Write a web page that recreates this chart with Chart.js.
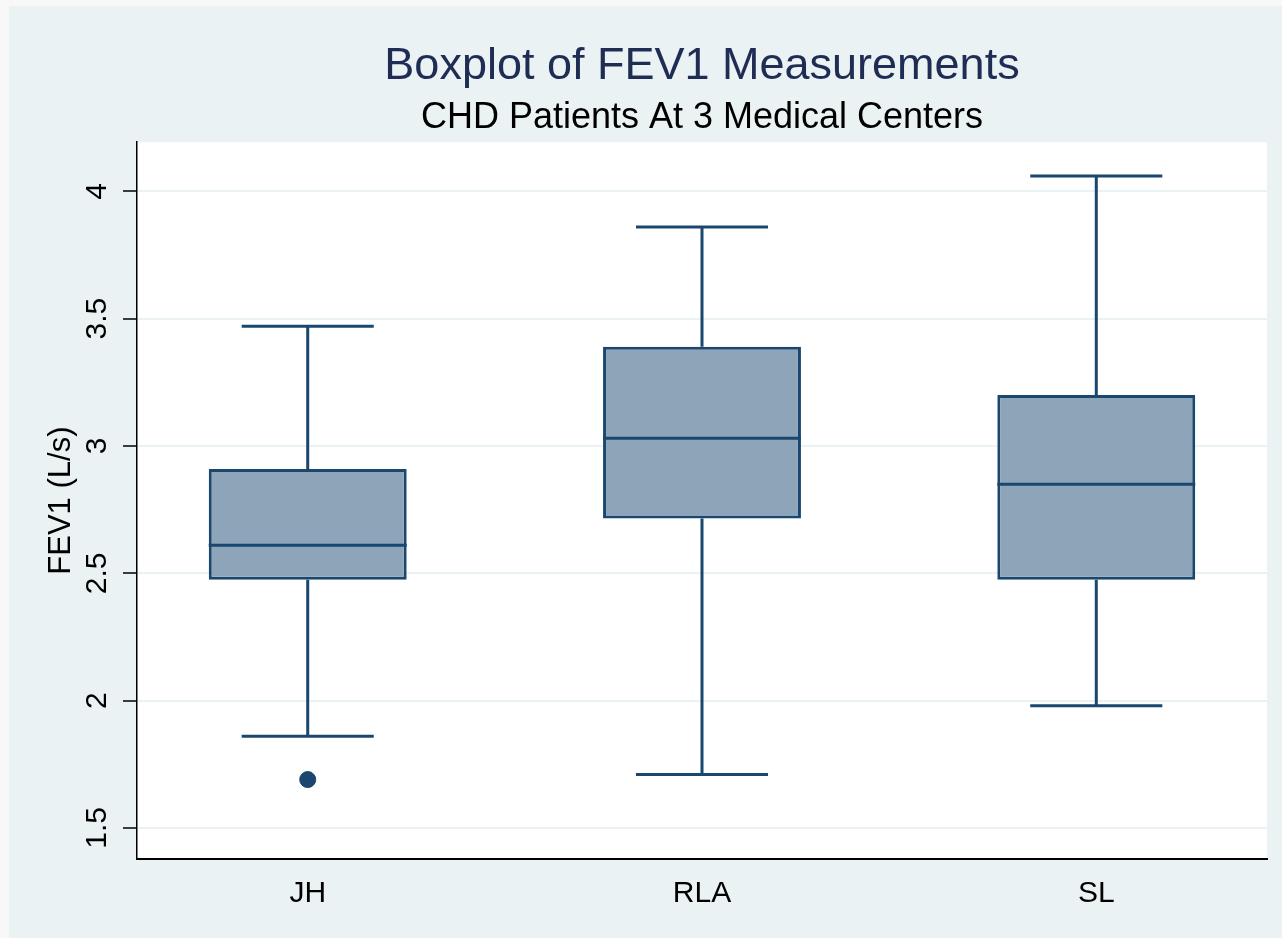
<!DOCTYPE html>
<html>
<head>
<meta charset="utf-8">
<title>Boxplot of FEV1 Measurements</title>
<script src="https://cdn.jsdelivr.net/npm/chart.js@4.4.1/dist/chart.umd.min.js"></script>
<style>
    html, body { margin: 0; padding: 0; background: #f8f8f8; }
    canvas { display: block; }
</style>
</head>
<body>
<canvas id="myChart" width="1282" height="938"></canvas>
<script>
// values
const centers = ['JH', 'RLA', 'SL']
const centerPositions = [1, 2, 3]
const lowerWhiskers = [1.86, 1.71, 1.98]
const lowerQuartiles = [2.475, 2.715, 2.475]
const medians = [2.61, 3.03, 2.85]
const upperQuartiles = [2.91, 3.39, 3.2]
const upperWhiskers = [3.47, 3.86, 4.06]
const outlierCenters = [1]
const outlierValues = [1.69]
const yTicks = [1.5, 2, 2.5, 3, 3.5, 4]

const navy = '#1a476f'
const boxFill = '#8ea4b9'
const panel = '#eaf2f3'
const capShare = 0.335

const backgroundPlugin = {
    id: 'background',
    beforeDraw: (chart) => {
        const ctx = chart.ctx
        const area = chart.chartArea
        ctx.save()
        ctx.fillStyle = '#f8f8f8'
        ctx.fillRect(0, 0, chart.width, chart.height)
        ctx.fillStyle = panel
        ctx.fillRect(9, 6, chart.width - 9, chart.height - 6)
        ctx.fillStyle = '#ffffff'
        ctx.fillRect(area.left, area.top, area.right - area.left, area.bottom - area.top)
        ctx.restore()
    }
}

// whiskers go under the boxes, medians on top of them
const whiskerPlugin = {
    id: 'whiskers',
    beforeDatasetsDraw: (chart) => {
        const ctx = chart.ctx
        const x = chart.scales.x
        const y = chart.scales.y
        const capHalf = (x.getPixelForValue(2) - x.getPixelForValue(1)) * capShare / 2
        ctx.save()
        ctx.strokeStyle = navy
        ctx.lineWidth = 3
        ctx.lineCap = 'butt'
        centerPositions.forEach((pos, i) => {
            const px = x.getPixelForValue(pos)
            ctx.beginPath()
            ctx.moveTo(px, y.getPixelForValue(upperQuartiles[i]))
            ctx.lineTo(px, y.getPixelForValue(upperWhiskers[i]))
            ctx.moveTo(px, y.getPixelForValue(lowerQuartiles[i]))
            ctx.lineTo(px, y.getPixelForValue(lowerWhiskers[i]))
            ctx.moveTo(px - capHalf, y.getPixelForValue(upperWhiskers[i]))
            ctx.lineTo(px + capHalf, y.getPixelForValue(upperWhiskers[i]))
            ctx.moveTo(px - capHalf, y.getPixelForValue(lowerWhiskers[i]))
            ctx.lineTo(px + capHalf, y.getPixelForValue(lowerWhiskers[i]))
            ctx.stroke()
        })
        ctx.restore()
    },
    afterDatasetsDraw: (chart) => {
        const ctx = chart.ctx
        const y = chart.scales.y
        const bars = chart.getDatasetMeta(0).data
        ctx.save()
        ctx.strokeStyle = navy
        ctx.lineWidth = 3
        bars.forEach((bar, i) => {
            const py = y.getPixelForValue(medians[i])
            ctx.beginPath()
            ctx.moveTo(bar.x - bar.width / 2, py)
            ctx.lineTo(bar.x + bar.width / 2, py)
            ctx.stroke()
        })
        ctx.restore()
    }
}

const ctx = document.getElementById('myChart').getContext('2d')

const myChart = new Chart(ctx, {
    type: 'bar',
    data: {
        datasets: [{
            label: 'FEV1',
            data: centerPositions.map((pos, i) => ({x: pos, y: [lowerQuartiles[i], upperQuartiles[i]]})),
            backgroundColor: boxFill,
            borderColor: navy,
            borderWidth: 3,
            borderSkipped: false,
            barPercentage: 0.502,
            categoryPercentage: 1
        }, {
            type: 'scatter',
            label: 'outside values',
            data: outlierCenters.map((pos, i) => ({x: pos, y: outlierValues[i]})),
            backgroundColor: navy,
            borderColor: navy,
            borderWidth: 1,
            pointRadius: 8
        }]
    },
    options: {
        responsive: false,
        animation: false,
        layout: {
            padding: {left: 43, right: 15, top: 0, bottom: 0}
        },
        plugins: {
            legend: {display: false},
            tooltip: {enabled: false},
            title: {
                display: true,
                fullSize: false,
                text: 'Boxplot of FEV1 Measurements',
                color: '#1f2d55',
                font: {family: 'Liberation Sans', size: 45, weight: 'normal', lineHeight: 1.2},
                padding: {top: 40, bottom: 0}
            },
            subtitle: {
                display: true,
                fullSize: false,
                text: 'CHD Patients At 3 Medical Centers',
                color: '#000000',
                font: {family: 'Liberation Sans', size: 36, weight: 'normal', lineHeight: 1.2},
                padding: {top: 2, bottom: 3}
            }
        },
        scales: {
            x: {
                type: 'linear',
                offset: false,
                min: 0.567,
                max: 3.433,
                afterBuildTicks: (axis) => {
                    axis.ticks = centerPositions.map(v => ({value: v}))
                },
                afterFit: (axis) => {
                    axis.height = 79
                },
                ticks: {
                    callback: (value) => centers[centerPositions.indexOf(value)],
                    color: '#000000',
                    font: {family: 'Liberation Sans', size: 30},
                    padding: 17,
                    maxRotation: 0,
                    autoSkip: false
                },
                grid: {display: false, drawTicks: false},
                border: {display: true, color: '#000000', width: 2}
            },
            y: {
                type: 'linear',
                min: 1.378,
                max: 4.193,
                afterBuildTicks: (axis) => {
                    axis.ticks = yTicks.map(v => ({value: v}))
                },
                afterFit: (axis) => {
                    axis.width = 94
                },
                ticks: {
                    callback: (value) => `${value}`,
                    color: '#000000',
                    font: {family: 'Liberation Sans', size: 30},
                    minRotation: 90,
                    maxRotation: 90,
                    crossAlign: 'center',
                    padding: 4
                },
                grid: {
                    color: panel,
                    lineWidth: 2,
                    tickColor: '#000000',
                    tickWidth: 1.5,
                    tickLength: 14
                },
                border: {display: true, color: '#000000', width: 1.5},
                title: {
                    display: true,
                    text: 'FEV1 (L/s)',
                    color: '#000000',
                    font: {family: 'Liberation Sans', size: 31, lineHeight: 1.2},
                    padding: 0
                }
            }
        }
    },
    plugins: [backgroundPlugin, whiskerPlugin]
})
</script>
</body>
</html>
